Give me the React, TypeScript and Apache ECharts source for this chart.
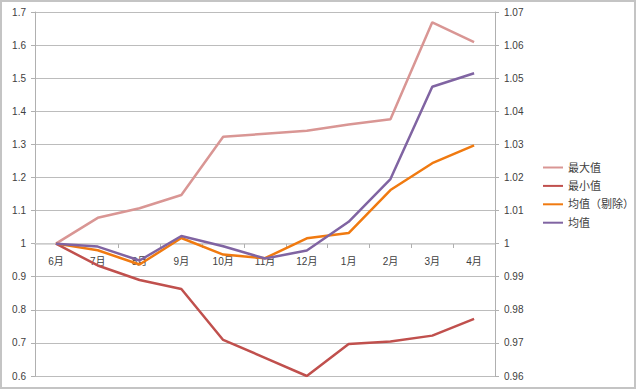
import React, { useEffect, useRef } from "react";
import * as echarts from "echarts";

const categories = ["6月", "7月", "8月", "9月", "10月", "11月", "12月", "1月", "2月", "3月", "4月"];
const maxValues = [1.0, 1.078, 1.107, 1.147, 1.323, 1.332, 1.341, 1.36, 1.376, 1.669, 1.609];
const minValues = [1.0, 0.934, 0.89, 0.863, 0.709, 0.655, 0.6, 0.697, 0.704, 0.722, 0.7725];
const trimmedAvg = [1.0, 0.998, 0.9937, 1.0017, 0.9967, 0.9956, 1.0016, 1.0032, 1.0162, 1.0243, 1.0297];
const avgValues = [1.0, 0.9991, 0.9949, 1.0023, 0.9992, 0.9955, 0.9979, 1.0066, 1.0195, 1.0474, 1.0515];
const seriesNames = ["最大值", "最小值", "均值（剔除）", "均值"];
const colors = ["#D99694", "#C0504D", "#F07A10", "#8064A2"];

const FONT = "'Liberation Sans', 'Noto Sans CJK SC', sans-serif";
const fmt = (v: number) => String(parseFloat(Number(v).toFixed(3)));

export default function App() {
  const ref = useRef<HTMLDivElement>(null);
  useEffect(() => {
    if (!ref.current) return;
    const chart = echarts.init(ref.current, null, { renderer: "svg" });
    const mk = (i: number, data: number[], yAxisIndex: number) => ({
      name: seriesNames[i],
      type: "line",
      yAxisIndex,
      data,
      symbol: "none",
      showSymbol: false,
      lineStyle: { color: colors[i], width: 2.5 },
      itemStyle: { color: colors[i] },
      z: 3,
    });
    chart.setOption({
      animation: false,
      backgroundColor: "#ffffff",
      textStyle: { fontFamily: FONT },
      grid: { left: 35, right: 141, top: 12, bottom: 13, containLabel: false },
      legend: {
        orient: "vertical",
        left: 538,
        top: 157,
        itemWidth: 20,
        itemHeight: 10,
        itemGap: 7.4,
        icon: "path://M0,4 L20,4 L20,6 L0,6 Z",
        textStyle: { fontSize: 11, color: "#404040", fontFamily: FONT },
        data: seriesNames,
      },
      xAxis: {
        type: "category",
        data: categories,
        position: "bottom",
        offset: -132,
        boundaryGap: true,
        axisLine: { show: true, lineStyle: { color: "#cfcfcf", width: 1.5 } },
        axisTick: { show: true, length: 4, lineStyle: { color: "#b0b0b0" } },
        axisLabel: { margin: 12, fontSize: 10, color: "#404040", fontFamily: FONT },
        splitLine: { show: false },
      },
      yAxis: [
        {
          type: "value",
          min: 0.6,
          max: 1.7,
          interval: 0.1,
          position: "left",
          axisLine: { show: true, lineStyle: { color: "#b0b0b0" } },
          axisTick: { show: true, length: 4, lineStyle: { color: "#b0b0b0" } },
          axisLabel: { formatter: fmt, fontSize: 10, color: "#404040", margin: 9, fontFamily: FONT },
          splitLine: { show: true, lineStyle: { color: "#bcbcbc", width: 1 } },
        },
        {
          type: "value",
          min: 0.96,
          max: 1.07,
          interval: 0.01,
          position: "right",
          axisLine: { show: true, lineStyle: { color: "#b0b0b0" } },
          axisTick: { show: true, length: 4, lineStyle: { color: "#b0b0b0" } },
          axisLabel: { formatter: fmt, fontSize: 10, color: "#404040", margin: 9, fontFamily: FONT },
          splitLine: { show: false },
        },
      ],
      graphic: [
        {
          type: "rect",
          shape: { x: 1, y: 1, width: 634, height: 387 },
          style: { fill: "none", stroke: "#c4c4c4", lineWidth: 2 },
          silent: true,
        },
      ],
      series: [
        mk(0, maxValues, 0),
        mk(1, minValues, 0),
        mk(2, trimmedAvg, 1),
        mk(3, avgValues, 1),
      ],
    });
    return () => chart.dispose();
  }, []);
  return (
    <div
      ref={ref}
      style={{ position: "absolute", left: 0, top: 0, width: 636, height: 389 }}
    />
  );
}
